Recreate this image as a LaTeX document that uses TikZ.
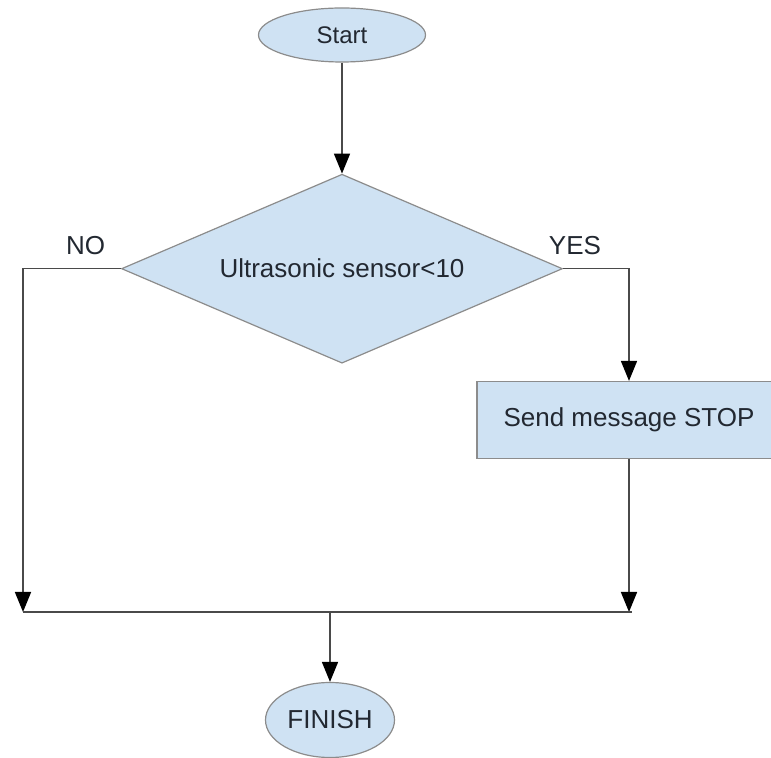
\documentclass[tikz,border=0pt]{standalone}
\usepackage{fontspec}
\setmainfont{Liberation Sans}
\usepackage{tikz}
\usetikzlibrary{arrows.meta,positioning,shapes.geometric}
\definecolor{fcblue}{HTML}{CFE2F3}
\definecolor{fcedge}{HTML}{8C8C8C}
\definecolor{fcline}{HTML}{4A4A4A}
\definecolor{fctext}{HTML}{222831}
\tikzset{
  shp/.style={draw=fcedge,fill=fcblue,line width=0.6pt,text=fctext,inner sep=0pt,font=\fontsize{13}{15}\selectfont},
  term/.style={shp,ellipse},
  decision/.style={shp,diamond,aspect=2.32},
  process/.style={shp,rectangle},
  line/.style={draw=fcline,line width=0.8pt},
  ar/.style={line,-{Triangle[length=10pt,width=8pt,color=black]}},
  lbl/.style={text=fctext,font=\fontsize{13}{15}\selectfont,inner sep=2pt},
}
\begin{document}
\begin{tikzpicture}[x=0.5pt,y=-0.5pt]
    \useasboundingbox (0,0) rectangle (771,758);
    \node[term,minimum width=83.5pt,minimum height=27pt,font=\fontsize{12}{14}\selectfont] (start) at (342,35) {Start};
    \node[decision,minimum width=220.5pt,minimum height=94.5pt,below=55.5pt of start] (sensor) {Ultrasonic sensor<10};
    \node[process,minimum width=152pt,minimum height=38.5pt] (stop) at (629,420) {Send message STOP};
    \node[term,minimum width=64.5pt,minimum height=37.5pt] (finish) at (330,720) {FINISH};
    \coordinate (joinl) at (23,612);
    \coordinate (joinr) at (629,612);
    \coordinate (joinm) at (330,612);
    \draw[ar] (start) -- (sensor);
    \draw[ar] (sensor.west) -| node[lbl,above=4.5pt,pos=0.18]{NO} (joinl);
    \draw[ar] (sensor.east) -| node[lbl,above=4.5pt,pos=0.09]{YES} (stop.north);
    \draw[ar] (stop.south) -- (joinr);
    \draw[line] (joinl) -- ([xshift=1.5pt]joinr);
    \draw[ar] (joinm) -- (finish);
  \end{tikzpicture}
\end{document}
